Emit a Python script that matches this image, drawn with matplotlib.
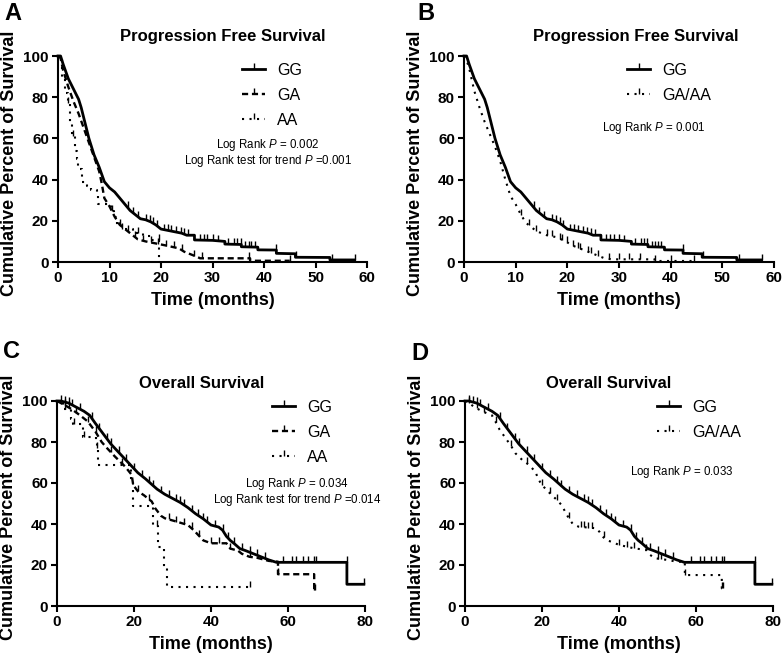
import numpy as np
import matplotlib
matplotlib.use("Agg")
import matplotlib.pyplot as plt
from matplotlib.lines import Line2D

plt.rcParams['font.family'] = 'Liberation Sans'
plt.rcParams['mathtext.fontset'] = 'custom'
plt.rcParams['mathtext.it'] = 'Liberation Sans:italic'
plt.rcParams['mathtext.rm'] = 'Liberation Sans'

# ---- progression free survival ----
pfs_gg_t = [0, 0.5, 1, 2, 3, 4, 4.5, 5, 6, 7, 8, 9, 10, 11, 12, 13, 14, 15, 16, 17, 18, 19, 20, 22, 24, 25,
            26.5, 26.5, 30, 32.4, 32.4, 35.6, 35.6, 38.8, 38.8, 42.4, 42.4, 46.1, 46.1, 52.8, 52.8, 57.6]
pfs_gg_s = [100, 100, 96, 89, 84, 79, 75, 70, 60, 52, 46, 39, 36, 34, 31, 28, 25, 23, 21, 20.5, 19.5, 18, 16, 15, 14, 13,
            13, 10.7, 10.5, 10, 8.7, 8.5, 7.4, 7.2, 5.9, 5.8, 4.2, 4.0, 2.3, 2.2, 1.0, 1.0]
pfs_gg_cens = [13.5, 14.5, 15.5, 17, 17.8, 18.5, 19.2, 20.5, 21.3, 22, 23, 23.8, 24.5, 25.3, 27.5, 28.3, 29, 30, 31,
               33, 34.2, 34.8, 35.5, 36.3, 37, 37.5, 38.2, 42.3, 46.2, 53.2, 57.6]

pfs_ga_t = [0, 0.5, 1, 2, 3, 4, 5, 6, 7, 8, 8.5, 9, 10, 11, 12, 13, 14, 15.5, 17, 19, 21, 23.5, 24.5, 26, 27, 27.6,
            37.3, 37.3, 45]
pfs_ga_s = [100, 99, 93, 85, 78, 72, 65, 58, 51, 44, 38, 31, 27, 22, 18, 16, 14, 11, 10, 9, 8, 6.6, 5, 3.5, 2.5, 1.8,
            1.8, 0.6, 0.6]
pfs_ga_cens = [12, 13.5, 15, 16.5, 18, 19.5, 21, 22.5, 24, 26.5, 28, 37, 45]

pfs_aa_t = [0, 0.8, 1.4, 2.0, 2.3, 2.7, 3.3, 3.6, 3.9, 4.6, 5.6, 6.5, 7.5, 7.8, 10.2, 10.8, 11.5, 12.5, 14.5, 16.5,
            18, 19.7, 19.8]
pfs_aa_s = [100, 90, 82, 77, 67, 61, 54, 50, 45, 39, 37, 35, 33, 28, 25, 22, 18, 16, 14, 12.5, 10.5, 0, 0]
pfs_aa_cens = [2, 3, 10.5, 12.5, 15.5, 19.6]

pfs_gaaa_t = [0, 0.5, 1, 2, 3, 4, 5, 6, 7, 8, 9, 10, 11, 12, 13, 14, 15, 16, 18, 20, 21, 23, 25, 26, 27, 28.5,
              36.9, 36.9, 44.6]
pfs_gaaa_s = [100, 98, 94, 83, 75, 68, 62, 56, 49, 40, 32, 28, 23, 19, 17, 15, 14, 13, 12, 9.5, 8, 6, 4, 3, 2, 1.3,
              1.3, 0.5, 0.5]
pfs_gaaa_cens = [11, 12.5, 14, 16, 17, 18.5, 19, 20, 21, 22, 22.5, 24, 24.5, 26, 28, 30, 32, 34, 37, 40, 44.6]

# ---- overall survival ----
os_gg_t = [0, 1, 3, 5, 7, 8.5, 10, 12, 14, 15, 17, 19, 21, 23, 24.5, 26, 28, 30, 32, 34, 36, 38, 40, 42, 43, 44,
           45, 46, 47.5, 49, 51, 53, 55, 57, 75.3, 75.3, 79.7]
os_gg_s = [100, 100, 99, 97, 95, 93, 89, 84, 79, 77, 73, 69, 65, 62, 59.5, 57, 54.5, 52.5, 50.5, 48, 45, 42.5, 39.5,
           38.5, 37, 34, 32, 30.5, 28, 27, 25.5, 24, 22.5, 21.3, 21.3, 10.6, 10.6]
os_gg_cens = [1, 2, 3, 4, 6, 9, 11, 13, 14, 16, 18, 20, 22, 24, 25, 27, 29, 31, 32, 33, 35, 36.5, 38, 39, 41, 43,
              44.5, 46, 48, 50, 52, 54, 58.8, 61, 62.2, 63.9, 65.2, 66.8, 67.4, 75.2, 79.7]

os_ga_t = [0, 2, 3.8, 6, 8, 10, 11.6, 13, 15, 17.7, 19.4, 19.8, 21, 22.6, 24.6, 25.5, 27, 28, 31, 34, 35.5, 36.7,
           38, 40, 44, 45, 47, 48, 50, 52, 55, 57.4, 57.4, 66.8, 66.8, 67]
os_ga_s = [100, 98, 96, 93, 90, 85, 80, 77, 73, 68, 64, 59, 56, 54, 51, 47.7, 44, 42.8, 41.2, 39.5, 37, 34.6, 32,
           30.6, 30.6, 28, 27, 25.5, 24, 23.5, 22, 21.6, 15.5, 15.5, 7.8, 7.8]
os_ga_cens = [2, 3, 5, 8, 10, 14, 17, 21, 24, 29, 31, 33, 35, 37, 40, 42, 45, 50, 57.4, 66.8, 67]

os_aa_t = [0, 1.5, 3.7, 4.2, 6.8, 10.0, 10.3, 10.7, 19.3, 19.7, 24.9, 26.2, 27.8, 28.6, 50]
os_aa_s = [100, 96, 91, 89, 82.5, 81, 77, 69, 60, 49, 39, 29, 19, 9.4, 9.4]
os_aa_cens = [2, 4.5, 7, 10.5, 26, 50]

os_gaaa_t = [0, 1, 2.5, 4.4, 7, 7.9, 9, 10.5, 12, 13.1, 15, 16.5, 18.3, 19, 20, 21.5, 22.6, 24, 25.2, 26, 26.9, 28,
             29.5, 34.1, 35, 35.6, 37, 38.5, 40, 44, 47, 48, 49.4, 52.8, 55, 57.1, 57.1, 66.7, 66.7, 67]
os_gaaa_s = [100, 99, 97, 95, 93, 90, 86, 82, 78, 74.5, 71, 69, 65.5, 62, 59, 56, 54, 51.5, 49, 46, 43, 40, 38.7,
             37.9, 36, 34, 32, 31, 29.8, 28.1, 27.4, 25, 23.3, 22.4, 21.6, 21.6, 15.1, 15.1, 8.6, 8.6]
os_gaaa_cens = [1, 3, 5, 8, 12, 16, 20, 22, 24, 27, 30, 31, 32, 33, 36, 40, 42, 44, 47, 50, 51, 57.1, 66.7, 67]

W, H = 784, 657
fig = plt.figure(figsize=(W / 100, H / 100), dpi=100)


def fx(x):
    return x / W


def fy(y):
    return 1 - y / H


solid = dict(ls='-', lw=2.0)
dashed = dict(ls=(0, (2.6, 1.6)), lw=1.7)
dotted = dict(ls=(0, (1, 2.6)), lw=1.5)


def curve(ax, t, s, cens, style, steps=False):
    t = np.array(t, float)
    s = np.array(s, float)
    ax.plot(t, s, color='black', clip_on=False, drawstyle='steps-post' if steps else 'default', **style)
    c = np.array(cens, float)
    if steps:
        cy = s[np.searchsorted(t, c, side='right') - 1]
    else:
        cy = np.interp(c, t, s)
    ax.plot(c, cy, ls='none', marker=2, ms=4.5, mew=1.0, color='black', clip_on=False)


def setup(ax, xmax, xstep):
    for sp in ['top', 'right']:
        ax.spines[sp].set_visible(False)
    for sp in ['left', 'bottom']:
        ax.spines[sp].set_linewidth(1.5)
    ax.set_xlim(0, xmax)
    ax.set_ylim(0, 100)
    ax.set_xticks(np.arange(0, xmax + 1, xstep))
    ax.set_yticks(np.arange(0, 101, 20))
    ax.tick_params(direction='out', length=4.5, width=1.5, labelsize=11, pad=2)
    for lbl in ax.get_xticklabels() + ax.get_yticklabels():
        lbl.set_fontweight('bold')
    ax.set_xlabel('Time (months)', fontsize=13, fontweight='bold')
    ax.set_ylabel('Cumulative Percent of Survival', fontsize=13, fontweight='bold')
    ax.xaxis.set_label_coords(0.5, -0.145)
    ax.yaxis.set_label_coords(-0.13, 0.48)


def legend(ax, labels, styles, x, y):
    hs = [Line2D([], [], color='black', marker=2, ms=4.5, mew=1.0, **st) for st in styles]
    ax.legend(hs, labels, loc='upper left', bbox_to_anchor=(fx(x), fy(y)), bbox_transform=fig.transFigure,
              frameon=False, fontsize=11.5, handlelength=1.45, handletextpad=0.75, labelspacing=0.62,
              borderpad=0, borderaxespad=0, numpoints=1)


axA = fig.add_axes([fx(58), fy(262), fx(309), 206 / H])
axB = fig.add_axes([fx(464), fy(262), fx(310), 206 / H])
axC = fig.add_axes([fx(57), fy(606), fx(308), 205 / H])
axD = fig.add_axes([fx(465), fy(606), fx(308), 205 / H])

# A
setup(axA, 60, 10)
curve(axA, pfs_gg_t, pfs_gg_s, pfs_gg_cens, solid)
curve(axA, pfs_ga_t, pfs_ga_s, pfs_ga_cens, dashed)
curve(axA, pfs_aa_t, pfs_aa_s, pfs_aa_cens, dotted, steps=True)
legend(axA, ['GG', 'GA', 'AA'], [solid, dashed, dotted], 242, 63)
fig.text(fx(223), fy(37), 'Progression Free Survival', fontsize=12, fontweight='bold', ha='center', va='center')
fig.text(fx(268), fy(145), r'Log Rank $\mathit{P}$ = 0.002', fontsize=8.3, ha='center', va='center')
fig.text(fx(268), fy(161), r'Log Rank test for trend $\mathit{P}$ =0.001', fontsize=8.3, ha='center', va='center')

# B
setup(axB, 60, 10)
curve(axB, pfs_gg_t, pfs_gg_s, pfs_gg_cens, solid)
curve(axB, pfs_gaaa_t, pfs_gaaa_s, pfs_gaaa_cens, dotted)
legend(axB, ['GG', 'GA/AA'], [solid, dotted], 627, 63)
fig.text(fx(636), fy(37), 'Progression Free Survival', fontsize=12, fontweight='bold', ha='center', va='center')
fig.text(fx(654), fy(128), r'Log Rank $\mathit{P}$ = 0.001', fontsize=8.3, ha='center', va='center')

# C
setup(axC, 80, 20)
curve(axC, os_gg_t, os_gg_s, os_gg_cens, solid)
curve(axC, os_ga_t, os_ga_s, os_ga_cens, dashed)
curve(axC, os_aa_t, os_aa_s, os_aa_cens, dotted, steps=True)
legend(axC, ['GG', 'GA', 'AA'], [solid, dashed, dotted], 272, 400)
fig.text(fx(202), fy(384), 'Overall Survival', fontsize=12, fontweight='bold', ha='center', va='center')
fig.text(fx(297), fy(484), r'Log Rank $\mathit{P}$ = 0.034', fontsize=8.3, ha='center', va='center')
fig.text(fx(297), fy(500), r'Log Rank test for trend $\mathit{P}$ =0.014', fontsize=8.3, ha='center', va='center')

# D
setup(axD, 80, 20)
curve(axD, os_gg_t, os_gg_s, os_gg_cens, solid)
curve(axD, os_gaaa_t, os_gaaa_s, os_gaaa_cens, dotted)
legend(axD, ['GG', 'GA/AA'], [solid, dotted], 657, 400)
fig.text(fx(609), fy(384), 'Overall Survival', fontsize=12, fontweight='bold', ha='center', va='center')
fig.text(fx(682), fy(472), r'Log Rank $\mathit{P}$ = 0.033', fontsize=8.3, ha='center', va='center')

# panel letters
for lab, x, y in [('A', 13, 14), ('B', 426, 14), ('C', 12, 352), ('D', 420, 353)]:
    fig.text(fx(x), fy(y), lab, fontsize=17, fontweight='bold', ha='center', va='center')

fig.savefig('out.png', dpi=100)
